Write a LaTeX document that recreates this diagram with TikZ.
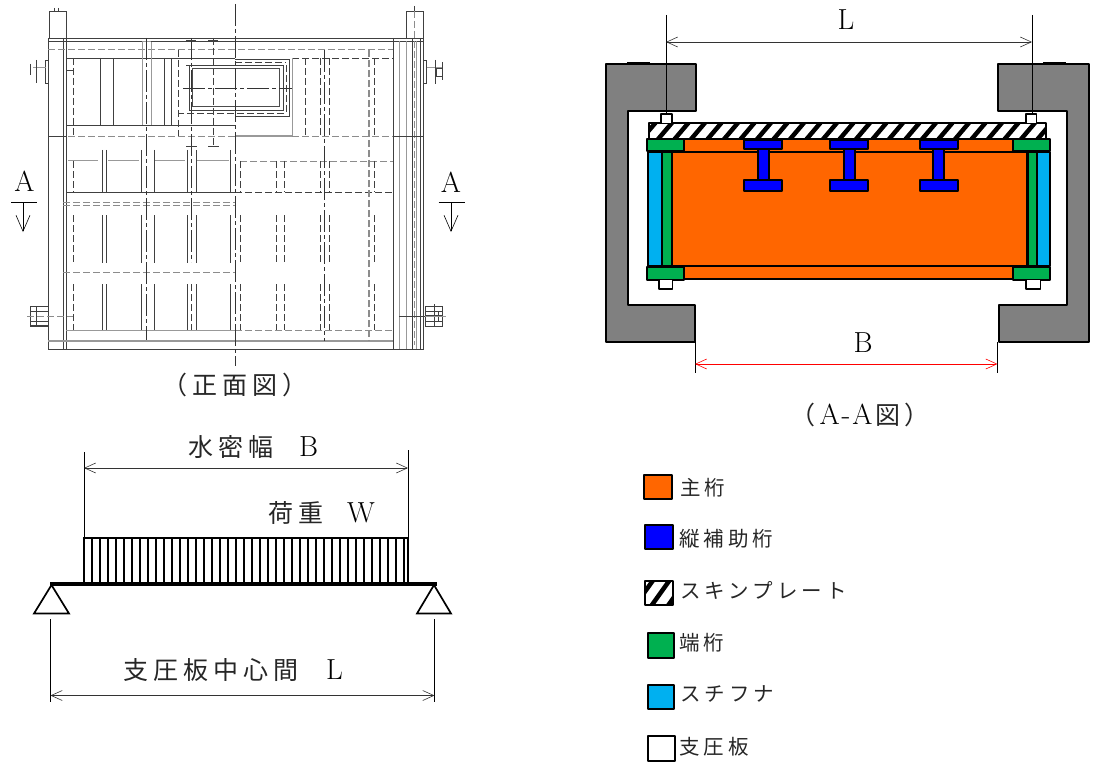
\documentclass[tikz,border=0pt]{standalone}
\usepackage{fontspec}
\usetikzlibrary{arrows.meta}
\newfontfamily\jp[LetterSpace=20,Color=262626]{Noto Sans CJK JP}
\newcommand{\jpbig}{\jp\fontsize{25}{28}\selectfont}
\tikzset{
  solidline/.style={line width=.7pt,black!75},
  greyline/.style={line width=1pt,black!40},
  hidden/.style={line width=.9pt,black!45,dash pattern=on 7pt off 3pt},
  hiddenthin/.style={line width=.7pt,black!75,dash pattern=on 7pt off 3pt},
  centre/.style={line width=.7pt,black!80,dash pattern=on 22pt off 3pt on 4pt off 3pt},
  part/.style={draw=black,line width=2pt,line join=round},
  dim/.style={line width=.6pt,black!80,{Straight Barb[length=11pt,width=10pt]}-{Straight Barb[length=11pt,width=10pt]}},
  ext/.style={line width=.7pt,black},
  lab/.style={inner sep=0pt,font=\fontsize{29}{32}\selectfont},
  keylab/.style={inner sep=0pt,anchor=west,font=\jp\fontsize{20.5}{23}\selectfont},
}
\definecolor{girder}{RGB}{255,102,0}
\definecolor{endgirder}{RGB}{0,176,80}
\definecolor{stiff}{RGB}{0,176,240}
\definecolor{rib}{RGB}{0,0,255}
\definecolor{frameGrey}{RGB}{128,128,128}
\begin{document}
\begin{tikzpicture}[x=1pt,y=-1pt]
\useasboundingbox (0,0) rectangle (1095,765);

% front view: outline
\draw[solidline] (48,38) rectangle (423,349);
\draw[solidline] (48,41) -- (423,41);
\draw[solidline] (49.5,38) -- (49.5,11) -- (66,11) -- (66,38);
\draw[solidline] (406.7,38) -- (406.7,11) -- (423,11) -- (423,38);
\draw[solidline] (54,8) -- (54,11) (58,8) -- (58,11) (414,6) -- (414,11);
\foreach \x in {63.3,66,393.7,412.3,420}
  \draw[solidline] (\x,38) -- (\x,349);
\foreach \x in {399.3,406.7,416.7}
  \draw[greyline] (\x,41) -- (\x,349);
\draw[hidden] (414,11) -- (414,345);

% front view: horizontals
\draw[hidden] (48,49.5) -- (393,49.5);
\draw[solidline] (66,58) -- (235,58);
\draw[solidline] (66,125) -- (235,125);
\draw[hiddenthin] (292,58.5) -- (393,58.5);
\draw[hidden] (48,136) -- (235,136);
\draw[greyline,line width=1.3pt] (235,136) -- (292,136);
\draw[hidden] (292,136) -- (393,136);
\draw[solidline] (48,136.5) -- (66,136.5) (393,136.5) -- (423,136.5);
\draw[greyline] (68,161) -- (98,161) (108,161) -- (139,161) (155,161) -- (185,161) (197,161) -- (229,161);
\draw[hidden] (240,161) -- (393,161);
\draw[solidline] (66,192) -- (235,192);
\draw[hiddenthin] (235,192) -- (393,192);
\draw[hidden] (63,202) -- (235,202);
\draw[hidden] (63,205.5) -- (235,205.5);
\draw[hidden] (63,272.5) -- (235,272.5);
\draw[greyline] (66,330) -- (235,330);
\draw[hidden] (235,330) -- (393,330);
\draw[hiddenthin] (63,340) -- (235,340);
\draw[greyline,line width=1.4pt] (48,341) -- (393,341);
\draw[solidline] (399,316) -- (425,316);

% front view: stiffener pairs
\foreach \x in {102,106.5,141,154.5,187,196,230} {
  \draw[solidline] (\x,150) -- (\x,192);
  \draw[solidline] (\x,215) -- (\x,262.5);
  \draw[solidline] (\x,284) -- (\x,330);
}
\foreach \x in {73,240,276,284.3,320,329.3,374.3} {
  \draw[hiddenthin] (\x,161) -- (\x,192);
  \draw[hiddenthin] (\x,215) -- (\x,262.5);
  \draw[hiddenthin] (\x,284) -- (\x,330);
}
\foreach \x in {305.7,320,329.3,374.3}
  \draw[hiddenthin] (\x,58.5) -- (\x,136);
\draw[hiddenthin] (73,58) -- (73,136);
\foreach \x in {100.5,113.5,164,171.5}
  \draw[solidline] (\x,58) -- (\x,125);
\draw[greyline] (142,42) -- (142,125) (151.3,42) -- (151.3,125) (142,42) -- (151.3,42);
\draw[centre] (146.5,38) -- (146.5,340);
\draw[centre] (324.7,50) -- (324.7,341);
\draw[hidden,line width=1.1pt] (369,50) -- (369,341);
\draw[centre] (191,38) -- (191,262);
\draw[hiddenthin] (191,284) -- (191,330);
\draw[hiddenthin] (213.5,38) -- (213.5,146);
\draw[solidline] (186,40) -- (196,40) (208,40) -- (218,40) (186,146) -- (197,146) (208,146) -- (219,146);
\draw[hiddenthin,line width=1pt] (178,50) -- (178,136);

% front view: window
\draw[line width=1pt,black!70] (192,69) rectangle (279,107);
\draw[solidline] (189,65) rectangle (283,110);
\draw[solidline] (235,116) -- (289.3,116) -- (289.3,59) -- (235,59);
\draw[hiddenthin] (186,65) -- (286,65) -- (286,113) -- (178,113);
\draw[hiddenthin] (235,62) -- (286,62);
\draw[greyline] (292,58) -- (292,136);
\draw[centre] (183,88.5) -- (292,88.5);
\draw[centre] (235,4) -- (235,366);
\draw[solidline] (66,70) -- (73,70);

% front view: bolts
\draw[solidline] (48,60) -- (45.5,60) -- (45.5,83) -- (48,83);
\draw[greyline] (33,67.5) -- (46,67.5);
\draw[solidline] (36,60) -- (36,83) (30,64) -- (30,75);
\draw[solidline] (423,60) -- (426.5,60) -- (426.5,83) -- (423,83);
\draw[greyline] (426.5,67.5) -- (443,67.5);
\draw[solidline] (435,60) -- (435,84) (442,62) -- (442,80) (436,68) rectangle (442,76);
\draw[solidline] (30,306) rectangle (48,326);
\foreach \y in {311,321,325}
  \draw[solidline] (30,\y) -- (48,\y);
\draw[solidline] (36,306) -- (36,326);
\draw[hidden] (27,316) -- (73,316);
\draw[solidline] (425,306) rectangle (442,326);
\foreach \y in {311.7,315,321.7}
  \draw[solidline] (425,\y) -- (442,\y);
\draw[solidline] (434,304) -- (434,327) (438,311) -- (438,322);
\draw[greyline] (425,316) -- (446,316);

% section marks
\node[lab] (markA) at (24.5,181) {A};
\node[lab] (markB) at (451,182) {A};
\coordinate (leftA) at (23,202);
\coordinate (leftAend) at (23,232);
\coordinate (rightA) at (451,202);
\coordinate (rightAend) at (451,232);
\draw[line width=.9pt] (11,202) -- (37,202);
\draw[line width=.9pt] (438.5,202) -- (464.5,202);
\draw[line width=.6pt,-{Straight Barb[length=16pt,width=14pt]}] (leftA) -- (leftAend);
\draw[line width=.6pt,-{Straight Barb[length=16pt,width=14pt]}] (rightA) -- (rightAend);
\node[lab,font=\jpbig] (frontcap) at (235,385) {（正面図）};

% section A-A: frame
\draw[part,fill=frameGrey] (605.5,64) -- (695.5,64) -- (695.5,110.7) -- (627.5,110.7) -- (627.5,305) -- (694.5,305) -- (694.5,341.5) -- (605.5,341.5) -- cycle;
\draw[part,fill=frameGrey] (1088.5,64) -- (998,64) -- (998,110.7) -- (1067,110.7) -- (1067,305) -- (999,305) -- (999,341.5) -- (1088.5,341.5) -- cycle;
\draw[line width=3pt] (627,63.5) -- (650,63.5) (1043,63.5) -- (1066,63.5);

% section A-A: girder
\draw[part,fill=girder] (671.5,152) rectangle (1027,266);
\draw[part,fill=girder] (683.5,139.5) rectangle (1012.5,152);
\draw[part,fill=girder] (683.5,266) rectangle (1012.5,278.5);
\draw[part,fill=stiff] (647.5,152) rectangle (662,266);
\draw[part,fill=endgirder] (662,152) rectangle (671.5,266);
\draw[part,fill=stiff] (1037,152) rectangle (1049.5,266);
\draw[part,fill=endgirder] (1027.5,152) rectangle (1037,266);
\draw[part,fill=endgirder] (647,139.5) rectangle (683.5,151.5);
\draw[part,fill=endgirder] (647,266.5) rectangle (683.5,279.5);
\draw[part,fill=endgirder] (1012.5,139.5) rectangle (1049.5,151.5);
\draw[part,fill=endgirder] (1012.5,266.5) rectangle (1049.5,279.5);
\foreach \x in {763,849,938.5} {
  \draw[part,fill=rib] (\x-5.5,149) rectangle (\x+5.5,180);
  \draw[part,fill=rib] (\x-19,140) rectangle (\x+19,149);
  \draw[part,fill=rib] (\x-19,180) rectangle (\x+19,190.5);
}

% section A-A: skin plate
\begin{scope}
  \clip (649,123.5) rectangle (1045.5,139);
  \foreach \x in {640,656.5,...,1060}
    \draw[line width=4.5pt] (\x,141) -- (\x+17,121);
\end{scope}
\draw[part] (649,139) -- (649,123.5) -- (1045.5,123.5) -- (1045.5,139);

% section A-A: bearing plates
\draw[part,line width=1.7pt,fill=white] (661,114) rectangle (672,123.5);
\draw[part,line width=1.7pt,fill=white] (1026,114) rectangle (1036.5,123.5);
\draw[part,line width=1.7pt,fill=white] (659,279.5) rectangle (672.5,289);
\draw[part,line width=1.7pt,fill=white] (1026,279.5) rectangle (1040.5,289);

% section A-A: dimensions
\coordinate (bearL) at (666,42);
\coordinate (bearR) at (1032,42);
\coordinate (wetL) at (695,364);
\coordinate (wetR) at (997.5,364);
\draw[ext] (666,15) -- (666,114);
\draw[ext] (1032,15) -- (1032,114);
\draw[ext] (695,342) -- (695,373);
\draw[ext] (997.5,342) -- (997.5,373);
\draw[dim] (bearL) -- (bearR);
\draw[dim,red] (wetL) -- (wetR);
\node[lab] (labelL) at (846,20) {L};
\node[lab] (labelB) at (863,343) {B};
\node[lab] (sectcap) at (860,415) {{\jpbig （}\hspace{4pt}A\hspace{2pt}-\hspace{2pt}A\hspace{3pt}{\jpbig 図\hspace{4pt}）}};

% beam model
\foreach \x in {84,92,...,404}
  \draw[line width=1.2pt] (\x,537.7) -- (\x,584);
\draw[line width=1.6pt] (84,584) -- (84,537.7) -- (408,537.7) -- (408,584);
\draw[line width=3.5pt] (50,584) -- (437,584);
\draw[line width=1.7pt,fill=white] (51.5,585) -- (34,613.5) -- (69,613.5) -- cycle;
\draw[line width=1.7pt,fill=white] (434,585) -- (417,613.5) -- (451,613.5) -- cycle;
\coordinate (beamBL) at (84,468);
\coordinate (beamBR) at (408,468);
\coordinate (beamLL) at (50.5,695.5);
\coordinate (beamLR) at (434.5,695.5);
\draw[ext] (84,452) -- (84,537);
\draw[ext] (408,450) -- (408,537);
\draw[ext] (50.5,619) -- (50.5,702);
\draw[ext] (434.5,619) -- (434.5,702);
\draw[dim] (beamBL) -- (beamBR);
\draw[dim] (beamLL) -- (beamLR);
\node[lab,anchor=west] (labelwidth) at (188,447) {{\jpbig 水密幅}\hspace{26pt}B};
\node[lab,anchor=west] (labelload) at (268,513) {{\jpbig 荷重}\hspace{24pt}W};
\node[lab,anchor=west] (labelspan) at (123,670) {{\jpbig 支圧板中心間}\hspace{28pt}L};

% legend
\draw[part,fill=girder] (644,475) rectangle (671.5,499);
\draw[part,fill=rib] (645,524.5) rectangle (672.5,549);
\begin{scope}
  \clip (645,581) rectangle (672.5,605);
  \foreach \x in {634,650.5,667}
    \draw[line width=4.5pt] (\x,607) -- (\x+20,579);
\end{scope}
\draw[part] (645,581) rectangle (672.5,605);
\draw[part,fill=endgirder] (648,633) rectangle (674,658);
\draw[part,fill=stiff] (648,685) rectangle (674,709);
\draw[part,fill=white] (648,736) rectangle (674.5,761);
\node[keylab] (keymain) at (680,488) {主桁};
\node[keylab] (keyrib) at (679,539) {縦補助桁};
\node[keylab] (keyskin) at (680,590) {スキンプレート};
\node[keylab] (keyend) at (679,643) {端桁};
\node[keylab] (keystiff) at (680,694) {スチフナ};
\node[keylab] (keybear) at (679,747) {支圧板};
\end{tikzpicture}
\end{document}
